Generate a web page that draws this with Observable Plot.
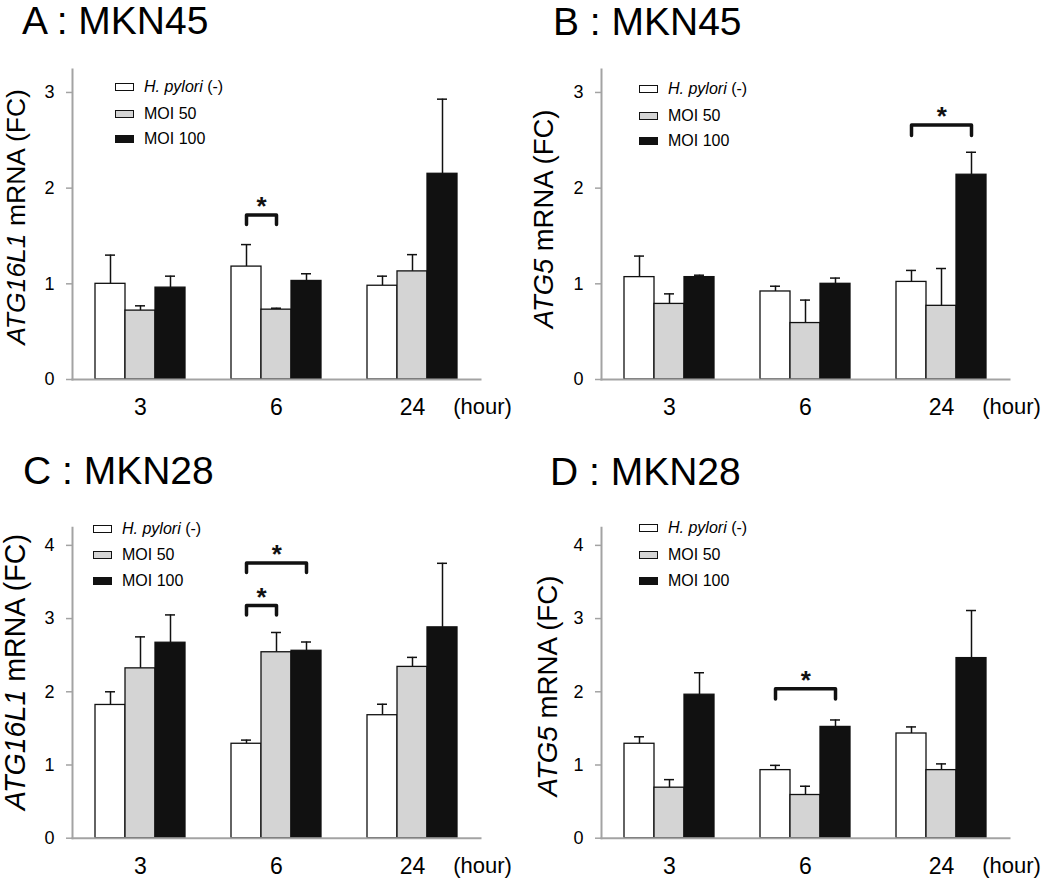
<!DOCTYPE html>
<html>
<head>
<meta charset="utf-8">
<script src="https://cdn.jsdelivr.net/npm/d3@7"></script>
<script src="https://cdn.jsdelivr.net/npm/@observablehq/plot@0.6"></script>
<style>
  body { margin: 0; background: #fff; font-family: "Liberation Sans", Arial, sans-serif; color: #000; }
  #root { position: relative; width: 1050px; height: 879px; overflow: hidden; }
  .panel { position: absolute; width: 525px; height: 440px; }
  .title { position: absolute; font-size: 39px; line-height: 39px; white-space: nowrap; }
  .ylab { position: absolute; line-height: 1; white-space: nowrap; transform: translate(-50%, -50%) rotate(-90deg); }
  .row { position: absolute; display: flex; align-items: center; font-size: 16px; line-height: 16px; white-space: nowrap; }
  .sw { width: 19px; height: 8px; border: 1.3px solid #111; box-sizing: border-box; margin-right: 10px; }
  .plot { position: absolute; left: 0; top: 48px; }
  .plot svg { overflow: visible; }
</style>
</head>
<body>
<div id="root"></div>
<script>
// ---------- data ----------
const hours = ["3", "6", "24"];
const treatments = ["H. pylori (-)", "MOI 50", "MOI 100"];
const treatmentFills = ["#ffffff", "#d4d4d4", "#111111"];
const yTicksMKN45 = [0, 1, 2, 3];
const yTicksMKN28 = [0, 1, 2, 3, 4];

// values ordered hour-major: 3h (H, 50, 100), 6h (...), 24h (...)
// A : MKN45, ATG16L1
const meanA = [1.00, 0.72, 0.96, 1.18, 0.73, 1.03, 0.98, 1.13, 2.15];
const errA  = [0.30, 0.05, 0.12, 0.23, 0.015, 0.075, 0.10, 0.175, 0.78];
const sigA  = [{hour: "6", from: "H. pylori (-)", to: "MOI 50", top: 1.72, end: 1.62}];

// B : MKN45, ATG5
const meanB = [1.07, 0.79, 1.07, 0.92, 0.59, 1.00, 1.02, 0.77, 2.14];
const errB  = [0.22, 0.105, 0.02, 0.055, 0.24, 0.06, 0.12, 0.39, 0.235];
const sigB  = [{hour: "24", from: "H. pylori (-)", to: "MOI 100", top: 2.66, end: 2.55}];

// C : MKN28, ATG16L1
const meanC = [1.82, 2.32, 2.67, 1.29, 2.54, 2.56, 1.68, 2.34, 2.88];
const errC  = [0.18, 0.43, 0.38, 0.05, 0.27, 0.12, 0.15, 0.13, 0.875];
const sigC  = [
  {hour: "6", from: "H. pylori (-)", to: "MOI 50", top: 3.18, end: 3.05},
  {hour: "6", from: "H. pylori (-)", to: "MOI 100", top: 3.76, end: 3.63}
];

// D : MKN28, ATG5
const meanD = [1.29, 0.69, 1.96, 0.93, 0.59, 1.52, 1.43, 0.93, 2.46];
const errD  = [0.095, 0.11, 0.30, 0.065, 0.12, 0.095, 0.09, 0.085, 0.65];
const sigD  = [{hour: "6", from: "H. pylori (-)", to: "MOI 100", top: 2.04, end: 1.90}];

// ---------- drawing ----------
const FONT = '"Liberation Sans", Arial, sans-serif';
const AXIS_GRAY = "#a3a3a3";
const INK = "#111";

const panels = [
  {left: 0,   top: 0,   title: "A : MKN45", gene: "ATG16L1", mean: meanA, err: errA, sig: sigA, ymax: 3.24, yticks: yTicksMKN45,
   ml: 71, mr: 45, mt: 21, mb: 61, titleX: 22, titleY: 1, ylab: [16, 216.5], ylabSize: 26.5,
   legX: 115, legRows: [87, 114, 139]},
  {left: 525, top: 0,   title: "B : MKN45", gene: "ATG5", mean: meanB, err: errB, sig: sigB, ymax: 3.24, yticks: yTicksMKN45,
   ml: 76, mr: 41, mt: 21, mb: 61, titleX: 28, titleY: 2, ylab: [19, 219], ylabSize: 27.4,
   legX: 114, legRows: [89, 116, 141]},
  {left: 0,   top: 440, title: "C : MKN28", gene: "ATG16L1", mean: meanC, err: errC, sig: sigC, ymax: 4.24, yticks: yTicksMKN28,
   ml: 71, mr: 45, mt: 39.3, mb: 42.3, titleX: 23, titleY: 11, ylab: [15, 231.5], ylabSize: 28.6,
   legX: 93, legRows: [89, 115, 141]},
  {left: 525, top: 440, title: "D : MKN28", gene: "ATG5", mean: meanD, err: errD, sig: sigD, ymax: 4.24, yticks: yTicksMKN28,
   ml: 76, mr: 41, mt: 39.3, mb: 42.3, titleX: 25, titleY: 12, ylab: [22.5, 245.8], ylabSize: 27.7,
   legX: 114, legRows: [88, 115, 141]}
];

const root = document.getElementById("root");

for (const p of panels) {
  const div = document.createElement("div");
  div.className = "panel";
  div.style.left = p.left + "px";
  div.style.top = p.top + "px";
  root.appendChild(div);

  const rows = [];
  hours.forEach((h, i) => treatments.forEach((t, j) => {
    rows.push({hour: h, trt: t, mean: p.mean[i * 3 + j], err: p.err[i * 3 + j]});
  }));

  const bracketPts = p.sig.flatMap((s, k) => [
    {id: k, hour: s.hour, trt: s.from, y: s.end},
    {id: k, hour: s.hour, trt: s.from, y: s.top},
    {id: k, hour: s.hour, trt: s.to, y: s.top},
    {id: k, hour: s.hour, trt: s.to, y: s.end}
  ]);

  const barW = 30.3;
  const starMarks = p.sig.map(s => Plot.text([s], {
    fx: "hour", x: "from", y: "top", text: () => "*",
    dx: (treatments.indexOf(s.to) - treatments.indexOf(s.from)) * barW / 2,
    dy: -8, fontSize: 26, fontWeight: "bold", fill: INK
  }));

  const chart = Plot.plot({
    width: 525,
    height: 392,
    marginLeft: p.ml, marginRight: p.mr, marginTop: p.mt, marginBottom: p.mb,
    style: {fontFamily: FONT, background: "transparent", color: "#000"},
    fx: {domain: hours, padding: 0},
    x: {domain: treatments, paddingInner: 0, paddingOuter: 0.75, axis: null},
    y: {domain: [0, p.ymax]},
    color: {domain: treatments, range: treatmentFills},
    marks: [
      Plot.axisY({ticks: p.yticks, tickFormat: d => String(d), tickSize: 6, tickPadding: 12, fontSize: 18, stroke: AXIS_GRAY, strokeWidth: 1.5, fill: "#000", label: null}),
      Plot.axisFx({anchor: "bottom", tickSize: 0, tickPadding: 19, fontSize: 23, fill: "#000", label: null}),
      Plot.ruleX(rows, {fx: "hour", x: "trt", y1: "mean", y2: d => d.mean + d.err, stroke: INK, strokeWidth: 1.5}),
      Plot.tickY(rows, {fx: "hour", x: "trt", y: d => d.mean + d.err, stroke: INK, strokeWidth: 1.5, insetLeft: 10, insetRight: 10}),
      Plot.barY(rows, {fx: "hour", x: "trt", y: "mean", fill: "trt", stroke: INK, strokeWidth: 1.3}),
      Plot.line(bracketPts, {fx: "hour", x: "trt", y: "y", z: "id", stroke: INK, strokeWidth: 3.5, strokeLinejoin: "round", strokeLinecap: "round"}),
      ...starMarks,
      Plot.frame({anchor: "left", facet: "super", stroke: AXIS_GRAY, strokeWidth: 2}),
      Plot.frame({anchor: "bottom", facet: "super", stroke: AXIS_GRAY, strokeWidth: 2}),
      Plot.text(["(hour)"], {text: d => d, frameAnchor: "bottom-right", facet: "super", textAnchor: "middle", lineAnchor: "top", dx: 2, dy: 19, fontSize: 22, fill: "#000"})
    ]
  });
  const holder = document.createElement("div");
  holder.className = "plot";
  holder.appendChild(chart);
  div.appendChild(holder);

  // title
  const t = document.createElement("div");
  t.className = "title";
  t.textContent = p.title;
  t.style.left = p.titleX + "px";
  t.style.top = p.titleY + "px";
  div.appendChild(t);

  // y label
  const yl = document.createElement("div");
  yl.className = "ylab";
  yl.style.fontSize = p.ylabSize + "px";
  yl.innerHTML = `<i>${p.gene}</i> mRNA (FC)`;
  yl.style.left = p.ylab[0] + "px";
  yl.style.top = p.ylab[1] + "px";
  div.appendChild(yl);

  // legend
  treatments.forEach((name, j) => {
    const r = document.createElement("div");
    r.className = "row";
    r.style.left = p.legX + "px";
    r.style.top = (p.legRows[j] - 8) + "px";
    const sw = document.createElement("span");
    sw.className = "sw";
    sw.style.background = treatmentFills[j];
    r.appendChild(sw);
    const lab = document.createElement("span");
    lab.innerHTML = j === 0 ? "<i>H. pylori</i> (-)" : name;
    r.appendChild(lab);
    div.appendChild(r);
  });
}
</script>
</body>
</html>
